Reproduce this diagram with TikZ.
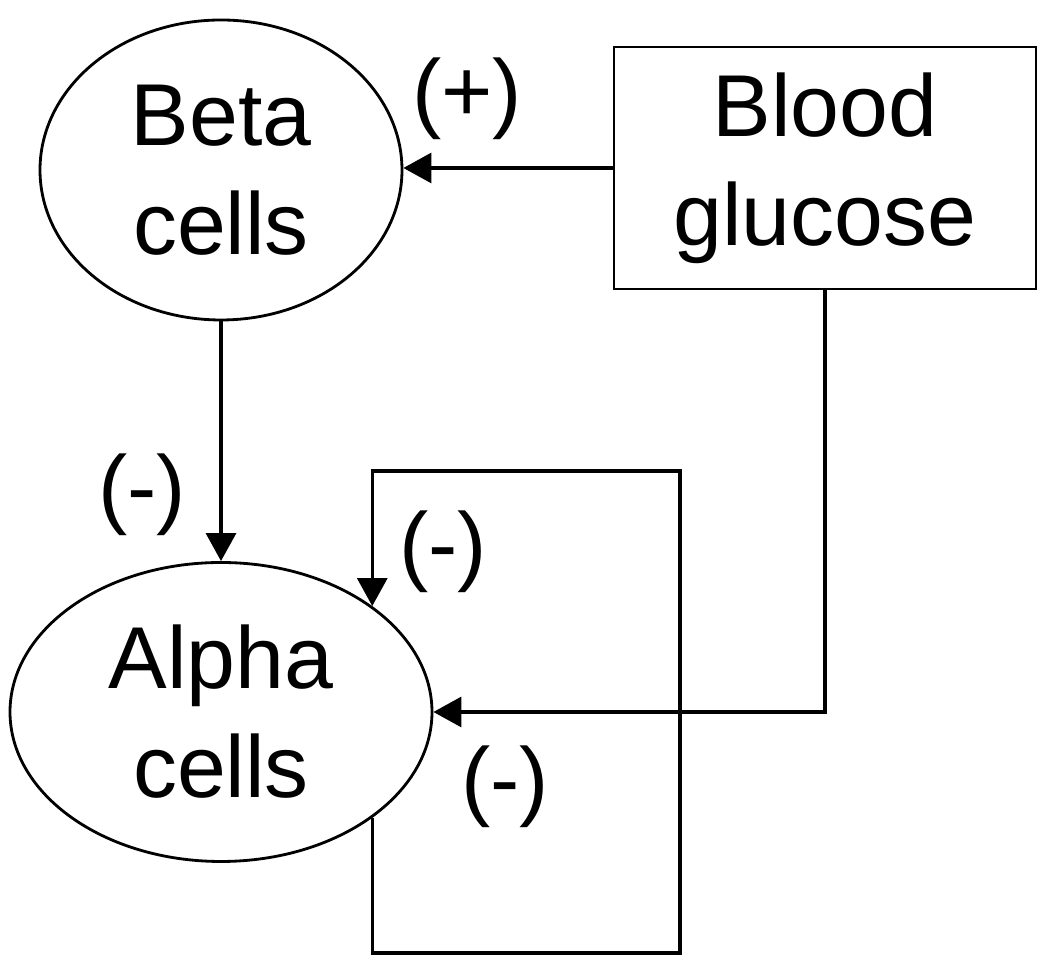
\documentclass[tikz,border=0pt]{standalone}
\usepackage{fontspec}
\setmainfont{Liberation Sans}
\usetikzlibrary{shapes.geometric}
\usetikzlibrary{arrows.meta}

\begin{document}
\begin{tikzpicture}[
  cellnode/.style={draw=black, ellipse, line width=0.8pt, inner sep=0pt, align=center, font=\fontsize{25}{31}\selectfont},
  boxnode/.style={draw=black, rectangle, line width=0.8pt, inner sep=0pt, align=center, font=\fontsize{25}{31}\selectfont},
  signlabel/.style={inner sep=0pt, font=\fontsize{25}{31}\selectfont},
  link/.style={line width=0.9pt, -{Triangle[length=2.8mm,width=3mm]}}]
\useasboundingbox (0,0) rectangle (10.5,-9.71);

\node[cellnode, minimum width=3.62cm, minimum height=3cm] (beta) at (2.21,-1.70) {Beta\\cells};
\node[cellnode, minimum width=4.22cm, minimum height=2.99cm] (alpha) at (2.21,-7.12) {Alpha\\cells};
\node[boxnode, minimum width=4.22cm, minimum height=2.42cm] (glucose) at (8.25,-1.68) {Blood\\glucose};

\coordinate (loopbr) at (6.80,-9.53);
\coordinate (looptr) at (6.80,-4.71);

\draw [link] (glucose.west) -- (glucose.west -| beta.east);
\draw [link] (beta.south) -- (alpha.north);
\draw [link] (glucose.south) |- (alpha.east);
\draw [link] (alpha.-35) |- (loopbr) -- (looptr) -| (alpha.35);

\node[signlabel] (plus) at (4.67,-0.99) {(+)};
\node[signlabel] (minusbeta) at (1.42,-4.95) {(-)};
\node[signlabel] (minusloop) at (4.43,-5.52) {(-)};
\node[signlabel] (minusglucose) at (5.05,-7.87) {(-)};

\end{tikzpicture}
\end{document}
